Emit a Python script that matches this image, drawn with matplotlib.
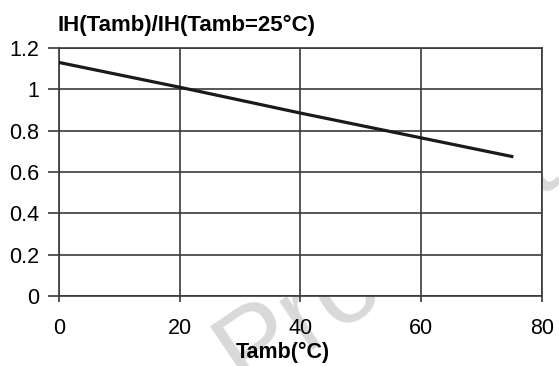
import matplotlib
matplotlib.use("Agg")
import matplotlib.pyplot as plt

# values
tamb = [0, 20, 40, 60, 75]
ih_ratio = [1.13, 1.01, 0.885, 0.765, 0.675]

x_ticks = [0, 20, 40, 60, 80]
y_ticks = [0, 0.2, 0.4, 0.6, 0.8, 1.0, 1.2]
y_labels = ["0", "0.2", "0.4", "0.6", "0.8", "1", "1.2"]

plt.rcParams["font.family"] = ["Liberation Sans", "DejaVu Sans"]

fig = plt.figure(figsize=(5.59, 3.66), dpi=100)
ax = fig.add_axes([0.1055, 0.1913, 0.8641, 0.6776])

# faint watermark, mostly hidden behind the white plot area
fig.text(0.437, -0.066, "Product", fontsize=80, color="#d9d9d9",
         rotation=34, rotation_mode="anchor", ha="left", va="baseline", zorder=-1)
ax.set_facecolor("white")

ax.plot(tamb, ih_ratio, color="#1a1a1a", linewidth=2.3, zorder=3)

ax.set_xlim(0, 80)
ax.set_ylim(0, 1.2)
ax.set_xticks(x_ticks)
ax.set_yticks(y_ticks)
ax.set_yticklabels(y_labels)
ax.grid(True, color="#3a3a3a", linewidth=1.2)

for side in ["top", "right", "bottom", "left"]:
    ax.spines[side].set_color("#3a3a3a")
    ax.spines[side].set_linewidth(1.2)

ax.tick_params(axis="y", length=8, width=1.2, color="#3a3a3a", pad=6, labelsize=15.5)
ax.tick_params(axis="x", length=4, width=1.2, color="#3a3a3a", pad=11.5, labelsize=15.5)

fig.text(0.506, 0.038, "Tamb(°C)", fontsize=15.5, fontweight="bold",
         ha="center", va="center")
fig.text(0.102, 0.93, "IH(Tamb)/IH(Tamb=25°C)", fontsize=16, fontweight="bold",
         ha="left", va="center")

fig.savefig("out.png", dpi=100)
